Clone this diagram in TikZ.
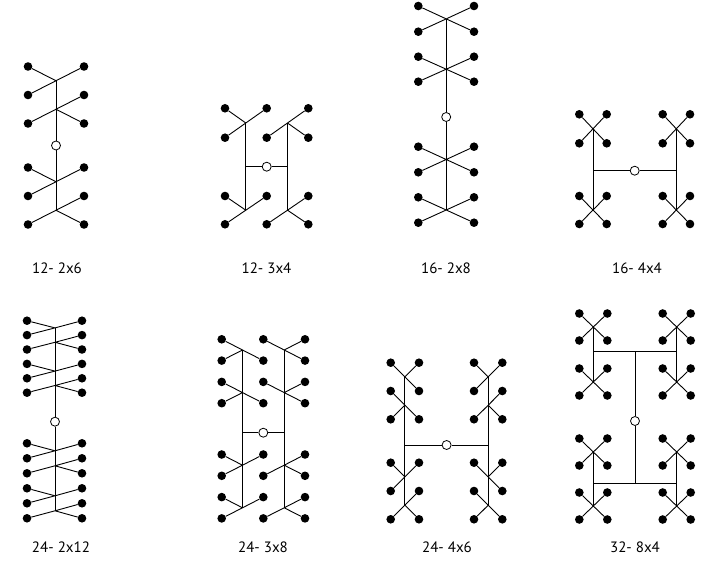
\documentclass[tikz,border=0pt]{standalone}
\usepackage{fontspec}
\setmainfont{PT Sans}
\begin{document}
\begin{tikzpicture}[x=1pt,y=-1pt,
  dot/.style={circle,fill=black,inner sep=0pt,minimum size=8.6pt},
  hub/.style={circle,draw=black,fill=white,inner sep=0pt,minimum size=9pt,line width=0.8pt},
  wire/.style={line width=0.9pt},
  lbl/.style={font=\fontsize{15}{18}\selectfont}]
\newcommand\wjunc[4]{\draw[wire] (#1) -- (#2) (#1) -- (#3) (#1) -- (#4);}
\newcommand\wcross[5]{\draw[wire] (#1) -- (#2) (#1) -- (#3) (#1) -- (#4) (#1) -- (#5);}
\useasboundingbox (0,0) rectangle (702,561);

% ---------------- A: 12- 2x6
\foreach \i/\y in {1/66.5,2/95,3/123.5,4/167.5,5/196,6/224.5}{
  \node[dot] (A-\i-L) at (28,\y) {};
  \node[dot] (A-\i-R) at (84,\y) {};}
\coordinate (A-j1) at (56,80.75);
\coordinate (A-j2) at (56,109.25);
\coordinate (A-j3) at (56,181.75);
\coordinate (A-j4) at (56,210.25);
\node[hub] (A-h) at (56,145.5) {};
\draw[wire] (A-j1) -- (A-h) -- (A-j4);
\wjunc{A-j1}{A-1-L}{A-1-R}{A-2-L}
\wjunc{A-j2}{A-2-R}{A-3-L}{A-3-R}
\wjunc{A-j3}{A-4-L}{A-4-R}{A-5-L}
\wjunc{A-j4}{A-5-R}{A-6-L}{A-6-R}
\node[lbl] (A-t) at (57,268) {12- 2x6};

% ---------------- B: 12- 3x4
\foreach \i/\y in {1/108.3,2/137.7,3/196,4/224.3}{
  \node[dot] (B-\i-L) at (225,\y) {};
  \node[dot] (B-\i-M) at (266.7,\y) {};
  \node[dot] (B-\i-R) at (308.3,\y) {};}
\coordinate (B-lj1) at (245.8,123);
\coordinate (B-rj1) at (287.5,123);
\coordinate (B-lj2) at (245.8,210.2);
\coordinate (B-rj2) at (287.5,210.2);
\coordinate (B-lc) at (245.8,166.7);
\coordinate (B-rc) at (287.5,166.7);
\node[hub] (B-h) at (266.7,166.7) {};
\draw[wire] (B-lj1) -- (B-lj2) (B-rj1) -- (B-rj2);
\draw[wire] (B-lc) -- (B-h) -- (B-rc);
\wjunc{B-lj1}{B-1-L}{B-1-M}{B-2-L}
\wjunc{B-rj1}{B-1-R}{B-2-M}{B-2-R}
\wjunc{B-lj2}{B-3-L}{B-3-M}{B-4-L}
\wjunc{B-rj2}{B-3-R}{B-4-M}{B-4-R}
\node[lbl] (B-t) at (266.5,268) {12- 3x4};

% ---------------- C: 16- 2x8
\foreach \i/\y in {1/6,2/31.7,3/56.7,4/81.7,5/146.7,6/172.3,7/197.3,8/222.7}{
  \node[dot] (C-\i-L) at (418.3,\y) {};
  \node[dot] (C-\i-R) at (474,\y) {};}
\coordinate (C-j1) at (446.2,18.9);
\coordinate (C-j2) at (446.2,69.2);
\coordinate (C-j3) at (446.2,159.5);
\coordinate (C-j4) at (446.2,210);
\node[hub] (C-h) at (446.2,117) {};
\draw[wire] (C-j1) -- (C-h) -- (C-j4);
\wcross{C-j1}{C-1-L}{C-1-R}{C-2-L}{C-2-R}
\wcross{C-j2}{C-3-L}{C-3-R}{C-4-L}{C-4-R}
\wcross{C-j3}{C-5-L}{C-5-R}{C-6-L}{C-6-R}
\wcross{C-j4}{C-7-L}{C-7-R}{C-8-L}{C-8-R}
\node[lbl] (C-t) at (446,268) {16- 2x8};

% ---------------- D: 16- 4x4
\foreach \i/\y in {1/114.3,2/143.3,3/196,4/224}{
  \node[dot] (D-\i-a) at (579.3,\y) {};
  \node[dot] (D-\i-b) at (606.7,\y) {};
  \node[dot] (D-\i-c) at (662.7,\y) {};
  \node[dot] (D-\i-d) at (690,\y) {};}
\coordinate (D-lx1) at (593,128.8);
\coordinate (D-rx1) at (676.3,128.8);
\coordinate (D-lx2) at (593,210);
\coordinate (D-rx2) at (676.3,210);
\coordinate (D-lc) at (593,170.7);
\coordinate (D-rc) at (676.3,170.7);
\node[hub] (D-h) at (634.7,170.7) {};
\draw[wire] (D-lx1) -- (D-lx2) (D-rx1) -- (D-rx2);
\draw[wire] (D-lc) -- (D-h) -- (D-rc);
\wcross{D-lx1}{D-1-a}{D-1-b}{D-2-a}{D-2-b}
\wcross{D-rx1}{D-1-c}{D-1-d}{D-2-c}{D-2-d}
\wcross{D-lx2}{D-3-a}{D-3-b}{D-4-a}{D-4-b}
\wcross{D-rx2}{D-3-c}{D-3-d}{D-4-c}{D-4-d}
\node[lbl] (D-t) at (637,268) {16- 4x4};

% ---------------- E: 24- 2x12
\foreach \i/\y in {1/320.7,2/335.1,3/349.5,4/363.9,5/378.3,6/392.7,
                   7/443.3,8/458.3,9/473.3,10/488.3,11/503.3,12/518.3}{
  \node[dot] (E-\i-L) at (27,\y) {};
  \node[dot] (E-\i-R) at (82,\y) {};}
\coordinate (E-j1) at (55,327.9);
\coordinate (E-j2) at (55,342.3);
\coordinate (E-j3) at (55,371.1);
\coordinate (E-j4) at (55,385.5);
\coordinate (E-j5) at (55,450.8);
\coordinate (E-j6) at (55,465.8);
\coordinate (E-j7) at (55,495.8);
\coordinate (E-j8) at (55,510.8);
\node[hub] (E-h) at (55,421.7) {};
\draw[wire] (E-j1) -- (E-h) -- (E-j8);
\wjunc{E-j1}{E-1-L}{E-1-R}{E-2-L}
\wjunc{E-j2}{E-2-R}{E-3-L}{E-3-R}
\wjunc{E-j3}{E-4-L}{E-4-R}{E-5-L}
\wjunc{E-j4}{E-5-R}{E-6-L}{E-6-R}
\wjunc{E-j5}{E-7-L}{E-7-R}{E-8-L}
\wjunc{E-j6}{E-8-R}{E-9-L}{E-9-R}
\wjunc{E-j7}{E-10-L}{E-10-R}{E-11-L}
\wjunc{E-j8}{E-11-R}{E-12-L}{E-12-R}
\node[lbl] (E-t) at (61,547) {24- 2x12};

% ---------------- F: 24- 3x8
\foreach \i/\y in {1/339.3,2/360.6,3/381.9,4/403.2,5/454.5,6/475.8,7/497.1,8/518.4}{
  \node[dot] (F-\i-L) at (221.7,\y) {};
  \node[dot] (F-\i-M) at (263.3,\y) {};
  \node[dot] (F-\i-R) at (305,\y) {};}
\coordinate (F-lj1) at (242.5,350);
\coordinate (F-rj1) at (284.2,350);
\coordinate (F-lj2) at (242.5,392.6);
\coordinate (F-rj2) at (284.2,392.6);
\coordinate (F-lj3) at (242.5,465.2);
\coordinate (F-rj3) at (284.2,465.2);
\coordinate (F-lj4) at (242.5,507.8);
\coordinate (F-rj4) at (284.2,507.8);
\coordinate (F-lc) at (242.5,432.7);
\coordinate (F-rc) at (284.2,432.7);
\node[hub] (F-h) at (263.3,432.7) {};
\draw[wire] (F-lj1) -- (F-lj4) (F-rj1) -- (F-rj4);
\draw[wire] (F-lc) -- (F-h) -- (F-rc);
\wjunc{F-lj1}{F-1-L}{F-2-M}{F-2-L}
\wjunc{F-rj1}{F-1-M}{F-1-R}{F-2-R}
\wjunc{F-lj2}{F-3-L}{F-4-M}{F-4-L}
\wjunc{F-rj2}{F-3-M}{F-3-R}{F-4-R}
\wjunc{F-lj3}{F-5-L}{F-5-M}{F-6-L}
\wjunc{F-rj3}{F-5-R}{F-6-M}{F-6-R}
\wjunc{F-lj4}{F-7-L}{F-7-M}{F-8-L}
\wjunc{F-rj4}{F-7-R}{F-8-M}{F-8-R}
\node[lbl] (F-t) at (263,547) {24- 3x8};

% ---------------- G: 24- 4x6
\foreach \i/\y in {1/362.7,2/391,3/419.3,4/462.7,5/491,6/519.3}{
  \node[dot] (G-\i-a) at (390.7,\y) {};
  \node[dot] (G-\i-b) at (419,\y) {};
  \node[dot] (G-\i-c) at (474,\y) {};
  \node[dot] (G-\i-d) at (502.3,\y) {};}
\coordinate (G-lj1) at (404.9,376.9);
\coordinate (G-rj1) at (488.2,376.9);
\coordinate (G-lj2) at (404.9,405.2);
\coordinate (G-rj2) at (488.2,405.2);
\coordinate (G-lj3) at (404.9,476.9);
\coordinate (G-rj3) at (488.2,476.9);
\coordinate (G-lj4) at (404.9,505.2);
\coordinate (G-rj4) at (488.2,505.2);
\coordinate (G-lc) at (404.9,445);
\coordinate (G-rc) at (488.2,445);
\node[hub] (G-h) at (446.6,445) {};
\draw[wire] (G-lj1) -- (G-lj4) (G-rj1) -- (G-rj4);
\draw[wire] (G-lc) -- (G-h) -- (G-rc);
\wjunc{G-lj1}{G-1-a}{G-1-b}{G-2-b}
\wjunc{G-lj2}{G-2-a}{G-3-a}{G-3-b}
\wjunc{G-rj1}{G-1-c}{G-1-d}{G-2-c}
\wjunc{G-rj2}{G-2-d}{G-3-c}{G-3-d}
\wjunc{G-lj3}{G-4-a}{G-4-b}{G-5-a}
\wjunc{G-lj4}{G-5-b}{G-6-a}{G-6-b}
\wjunc{G-rj3}{G-4-c}{G-4-d}{G-5-d}
\wjunc{G-rj4}{G-5-c}{G-6-c}{G-6-d}
\node[lbl] (G-t) at (447,547) {24- 4x6};

% ---------------- H: 32- 8x4
\foreach \i/\y in {1/313.5,2/340.5,3/368.5,4/395.5,5/438.5,6/465.5,7/492.5,8/519.5}{
  \node[dot] (H-\i-a) at (579.3,\y) {};
  \node[dot] (H-\i-b) at (607.3,\y) {};
  \node[dot] (H-\i-c) at (662.7,\y) {};
  \node[dot] (H-\i-d) at (690.7,\y) {};}
\foreach \k/\y in {1/327,2/382,3/452,4/506}{
  \coordinate (H-lx\k) at (593.3,\y);
  \coordinate (H-rx\k) at (676.7,\y);}
\coordinate (H-tl) at (593.3,351.7);
\coordinate (H-tm) at (635,351.7);
\coordinate (H-tr) at (676.7,351.7);
\coordinate (H-bl) at (593.3,483.3);
\coordinate (H-bm) at (635,483.3);
\coordinate (H-br) at (676.7,483.3);
\node[hub] (H-h) at (635,421) {};
\draw[wire] (H-lx1) -- (H-lx2) (H-rx1) -- (H-rx2) (H-lx3) -- (H-lx4) (H-rx3) -- (H-rx4);
\draw[wire] (H-tl) -- (H-tr) (H-bl) -- (H-br);
\draw[wire] (H-tm) -- (H-h) -- (H-bm);
\wcross{H-lx1}{H-1-a}{H-1-b}{H-2-a}{H-2-b}
\wcross{H-rx1}{H-1-c}{H-1-d}{H-2-c}{H-2-d}
\wcross{H-lx2}{H-3-a}{H-3-b}{H-4-a}{H-4-b}
\wcross{H-rx2}{H-3-c}{H-3-d}{H-4-c}{H-4-d}
\wcross{H-lx3}{H-5-a}{H-5-b}{H-6-a}{H-6-b}
\wcross{H-rx3}{H-5-c}{H-5-d}{H-6-c}{H-6-d}
\wcross{H-lx4}{H-7-a}{H-7-b}{H-8-a}{H-8-b}
\wcross{H-rx4}{H-7-c}{H-7-d}{H-8-c}{H-8-d}
\node[lbl] (H-t) at (635,547) {32- 8x4};
\end{tikzpicture}
\end{document}
